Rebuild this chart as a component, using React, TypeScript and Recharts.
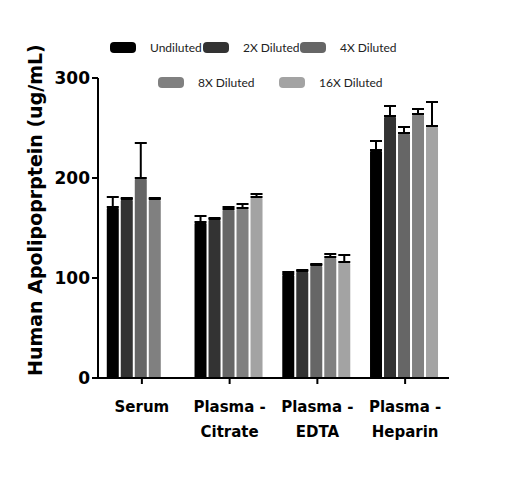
import { BarChart, Bar, XAxis, YAxis, ErrorBar } from "recharts";

const categories = ["Serum", "Plasma -\nCitrate", "Plasma -\nEDTA", "Plasma -\nHeparin"];
const undiluted = [171, 156, 104, 228];
const undilutedErr = [10, 6, 2, 9];
const x2 = [179, 159, 107, 262];
const x2Err = [1, 1, 1, 10];
const x4 = [200, 169, 113, 245];
const x4Err = [35, 2, 1, 6];
const x8 = [179, 170, 121, 264];
const x8Err = [1, 4, 3, 5];
const x16 = [null, 181, 116, 252];
const x16Err = [0, 3, 7, 24];
const yTicks = [0, 100, 200, 300];

const series = [
  { key: "u", name: "Undiluted", vals: undiluted, errs: undilutedErr, color: "#000000" },
  { key: "x2", name: "2X Diluted", vals: x2, errs: x2Err, color: "#333333" },
  { key: "x4", name: "4X Diluted", vals: x4, errs: x4Err, color: "#666666" },
  { key: "x8", name: "8X Diluted", vals: x8, errs: x8Err, color: "#808080" },
  { key: "x16", name: "16X Diluted", vals: x16, errs: x16Err, color: "#a3a3a3" },
];

const data = categories.map((c, i) => {
  const row: any = { cat: c };
  series.forEach((s) => {
    row[s.key] = s.vals[i];
    row[s.key + "Err"] = [0, s.errs[i]];
  });
  return row;
});

const font = "'DejaVu Sans', sans-serif";

function CatTick(props: any) {
  const { x, y, payload } = props;
  const lines = String(payload.value).split("\n");
  return (
    <text x={x} y={y + 26} textAnchor="middle" fontFamily={font} fontWeight="bold" fontSize={15} fill="#000">
      {lines.map((l, i) => (
        <tspan key={i} x={x} dy={i === 0 ? 0 : 25}>{l}</tspan>
      ))}
    </text>
  );
}

const legendPos = [
  { x: 110, y: 40 }, { x: 203, y: 40 }, { x: 300, y: 40 },
  { x: 158, y: 75 }, { x: 279, y: 75 },
];

export default function App() {
  return (
    <div style={{ position: "fixed", left: 0, top: 0, width: 505, height: 482, background: "#fff" }}>
      <BarChart width={505} height={482} data={data}
        margin={{ top: 78, right: 56, bottom: 0, left: 38 }}
        barCategoryGap="10%" barGap={2}>
        <XAxis dataKey="cat" tick={<CatTick />} axisLine={{ stroke: "#000", strokeWidth: 2 }}
          tickLine={{ stroke: "#000", strokeWidth: 2 }} tickSize={6} height={104} interval={0} />
        <YAxis domain={[0, 300]} ticks={yTicks} width={60}
          axisLine={{ stroke: "#000", strokeWidth: 2 }} tickLine={{ stroke: "#000", strokeWidth: 2 }}
          tickSize={6} tick={{ fill: "#000", fontSize: 17, fontWeight: "bold", fontFamily: font }}
          label={{ value: "Human Apolipoprptein (ug/mL)", angle: -90, position: "insideLeft", dx: -8, dy: 148,
            style: { fontSize: 19, fontWeight: "bold", fontFamily: font, fill: "#000" } }} />
        {series.map((s) => (
          <Bar key={s.key} dataKey={s.key} fill={s.color} radius={[2, 2, 0, 0]} isAnimationActive={false}>
            <ErrorBar dataKey={s.key + "Err"} width={6} stroke="#000" strokeWidth={2} direction="y" />
          </Bar>
        ))}
      </BarChart>
      {series.map((s, i) => (
        <div key={s.key} style={{ position: "absolute", left: legendPos[i].x, top: legendPos[i].y,
          display: "flex", alignItems: "center", whiteSpace: "nowrap", fontFamily: "Lato, sans-serif",
          fontSize: 12, color: "#222" }}>
          <span style={{ display: "inline-block", width: 26, height: 11, borderRadius: 4, background: s.color, marginRight: 14 }} />
          {s.name}
        </div>
      ))}
    </div>
  );
}
